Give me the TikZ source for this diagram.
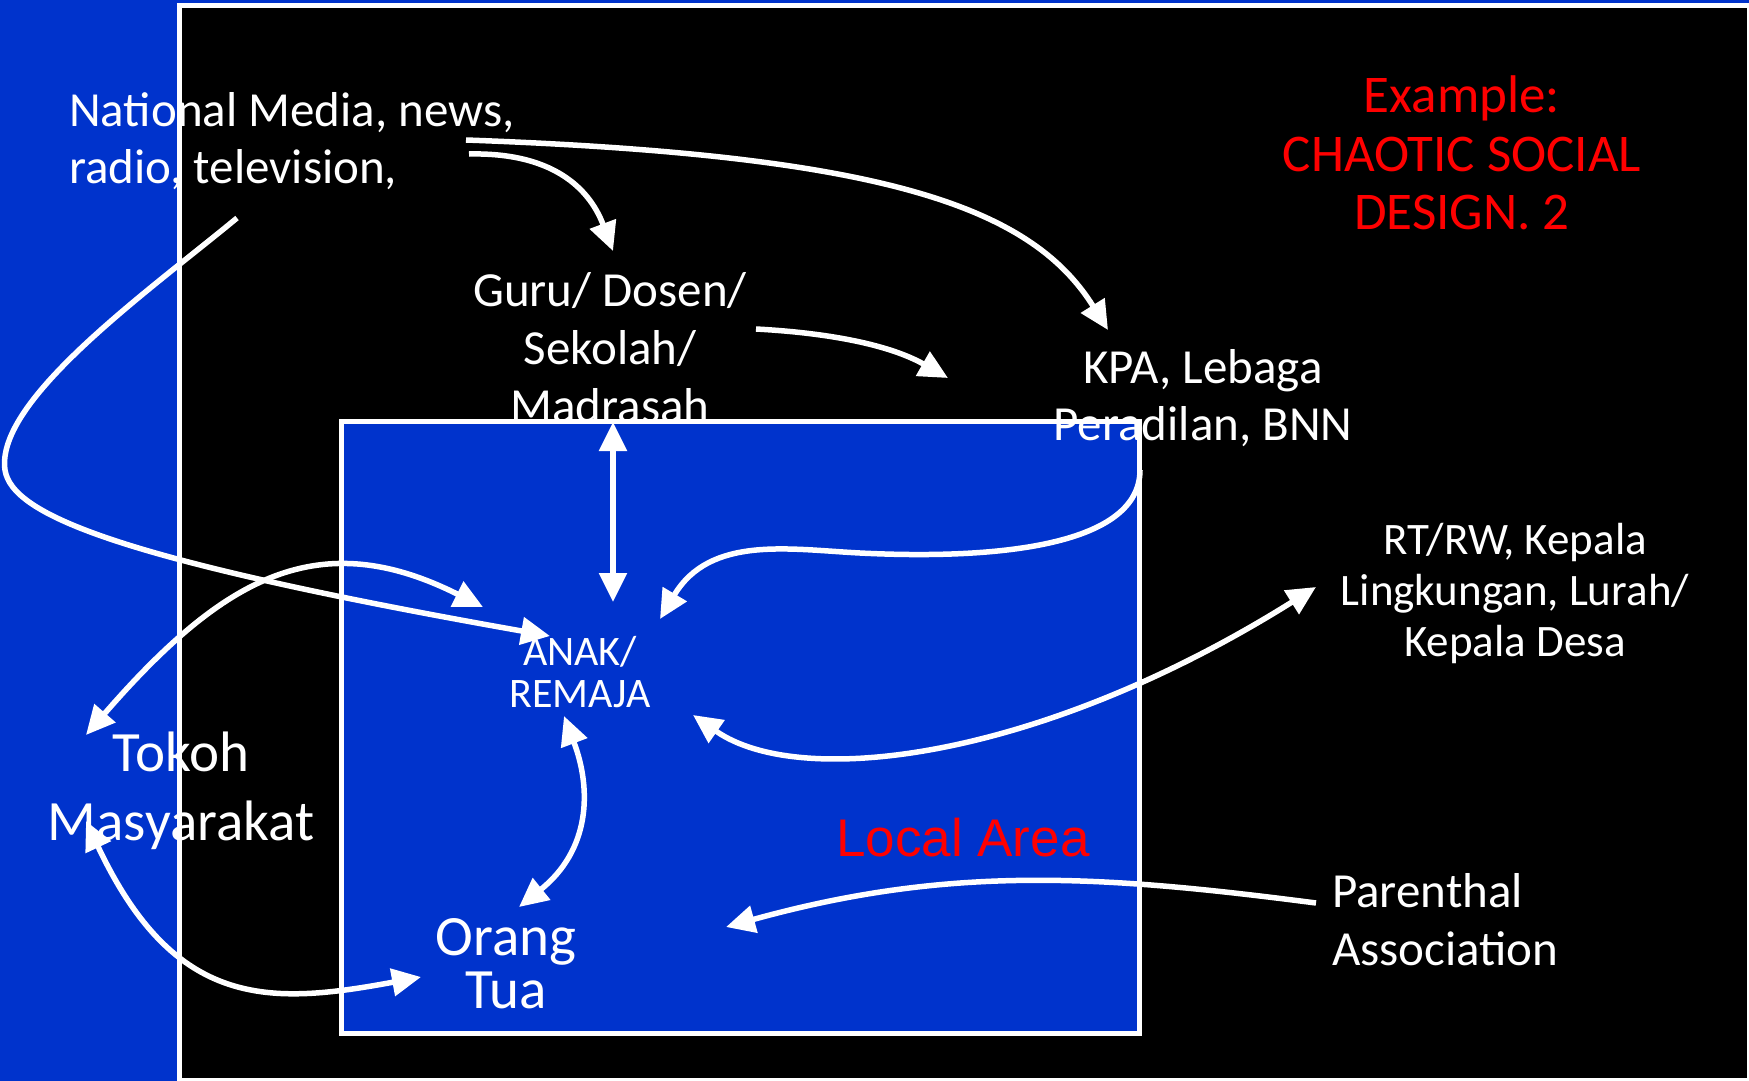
\documentclass[tikz,border=0pt]{standalone}
\usepackage{fontspec}
\setmainfont{Carlito}
\newfontfamily\arialf{Liberation Sans}
\usetikzlibrary{arrows.meta}
\definecolor{bgblue}{RGB}{0,51,204}
\definecolor{txtred}{RGB}{255,0,0}
\newcommand{\mlines}[2]{\begin{tabular}[t]{@{}#1@{}}#2\end{tabular}}
\begin{document}
\begin{tikzpicture}[x=1pt,y=-1pt,
  txt/.style={text=white, inner sep=0pt, font=\fontsize{49}{57}\selectfont},
  conn/.style={draw=white, line width=5.5pt},
  arr/.style={conn, -{Triangle[length=29pt,width=27pt]}},
  darr/.style={conn, {Triangle[length=29pt,width=27pt]}-{Triangle[length=29pt,width=27pt]}},
  frame/.style={draw=white, line width=5pt}]
\useasboundingbox (0,0) rectangle (1749,1081);
\clip (0,0) rectangle (1749,1081);
\fill[bgblue] (0,0) rectangle (1749,1081);
\draw[frame, fill=black] (179,5.5) rectangle (1749.5,1080);
\draw[frame, fill=bgblue] (341,421) rectangle (1139,1033);

% texts
\node[txt, anchor=base west] (natl) at (69,126) {\mlines{l}{National Media, news,\\radio, television,}};
\node[txt, anchor=base, font=\fontsize{49}{58}\selectfont] (guru) at (610,306) {\mlines{c}{Guru/ Dosen/\\Sekolah/\\Madrasah}};
\node[txt, anchor=base] (kpa) at (1203,383) {\mlines{c}{KPA, Lebaga\\Peradilan, BNN}};
\node[txt, anchor=base, font=\fontsize{45}{51}\selectfont] (rt) at (1515,554) {\mlines{c}{RT/RW, Kepala\\Lingkungan, Lurah/\\Kepala Desa}};
\node[txt, anchor=base west, font=\fontsize{49}{58}\selectfont] (par) at (1332,907) {\mlines{l}{Parenthal\\Association}};
\node[txt, anchor=base, text=txtred, font=\fontsize{53}{58.5}\selectfont] (ex) at (1462,113) {\mlines{c}{Example:\\CHAOTIC SOCIAL\\DESIGN. 2}};
\node[txt, anchor=base, font=\fontsize{42}{42}\selectfont] (anak) at (580,665) {\mlines{c}{ANAK/\\REMAJA}};
\node[txt, anchor=base, font=\fontsize{57}{69}\selectfont] (tokoh) at (181,771) {\mlines{c}{Tokoh\\Masyarakat}};
\node[txt, anchor=base, font=\fontsize{57}{53}\selectfont] (orang) at (506,955) {\mlines{c}{Orang\\Tua}};
\node[txt, anchor=base west, text=txtred, font=\arialf\fontsize{53}{60}\selectfont] (local) at (836,856) {Local Area};

% connector end points
\coordinate (n1) at (466,140);
\coordinate (n2) at (469,154);
\coordinate (n3) at (237,218);
\coordinate (kpaIn) at (1108,330);
\coordinate (guruIn) at (613,251);
\coordinate (anakIn) at (550,636);
\coordinate (guruOut) at (756,329);
\coordinate (kpaIn2) at (948,378);
\coordinate (guruBot) at (613,422);
\coordinate (anakTop) at (613,602);
\coordinate (kpaOut) at (1140,470);
\coordinate (anakR) at (660,619);
\coordinate (anakRR) at (693,715);
\coordinate (rtIn) at (1316,587);
\coordinate (anakL) at (483,607);
\coordinate (tokohTop) at (86,735);
\coordinate (tokohBot) at (86,821);
\coordinate (orangL) at (421,977);
\coordinate (anakBot) at (564,716);
\coordinate (orangTop) at (519,907);
\coordinate (parOut) at (1316,903);
\coordinate (orangR) at (726,927);

% connectors
\draw[arr] (n1) .. controls (880,155) and (1030,205) .. (kpaIn);
\draw[arr] (n2) .. controls (560,152) and (592,195) .. (guruIn);
\draw[arr] (n3) .. controls (150,290) and (-5,400) .. (5,470) .. controls (12,515) and (120,560) .. (anakIn);
\draw[arr] (guruOut) .. controls (830,333) and (890,345) .. (kpaIn2);
\draw[darr] (guruBot) -- (anakTop);
\draw[arr] (kpaOut) .. controls (1140,545) and (1000,560) .. (860,553) .. controls (790,549.5) and (710,535) .. (anakR);
\draw[darr] (anakRR) .. controls (800,790) and (1040,760) .. (rtIn);
\draw[darr] (tokohTop) .. controls (225,575) and (320,525) .. (anakL);
\draw[darr] (tokohBot) .. controls (175,1010) and (270,1005) .. (orangL);
\draw[darr] (anakBot) .. controls (592,790) and (590,850) .. (orangTop);
\draw[arr] (parOut) .. controls (1100,875) and (950,865) .. (orangR);
\end{tikzpicture}
\end{document}
